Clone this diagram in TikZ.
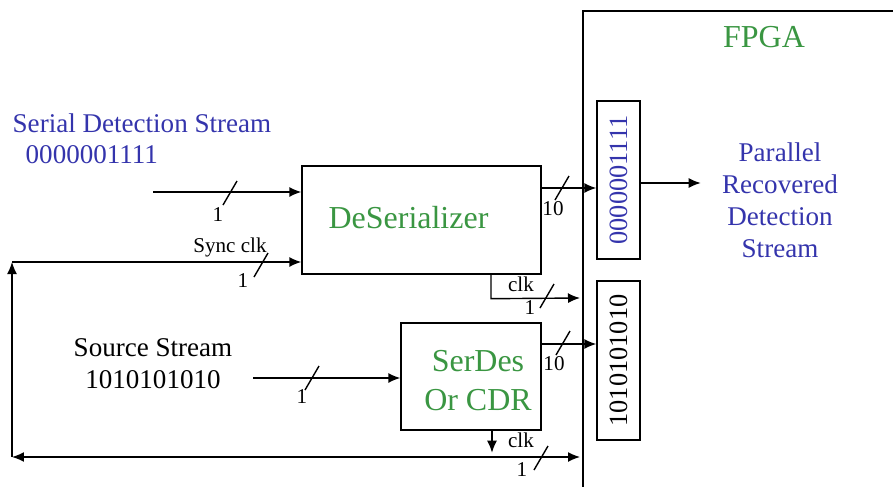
\documentclass[tikz,border=0pt]{standalone}
\usepackage{fontspec}
\setmainfont{Liberation Serif}
\usetikzlibrary{arrows.meta,positioning,calc}
\tikzset{>={Latex[length=2.4mm,width=2mm]}}
\definecolor{detblue}{RGB}{52,52,172}
\definecolor{blkgreen}{RGB}{58,150,66}
\tikzset{
  block/.style={draw, inner sep=0pt, font=\fontsize{18.2}{18.2}\selectfont, text=blkgreen},
  blocktxt/.style={inner sep=0pt, font=\fontsize{18.2}{18.2}\selectfont, text=blkgreen, align=center},
  reg/.style={draw, inner sep=0pt, minimum width=0.86cm, font=\fontsize{15}{15}\selectfont},
  buslabel/.style={inner sep=0pt, font=\fontsize{12}{12}\selectfont},
  bigtext/.style={inner sep=0pt, font=\fontsize{15.4}{18.2}\selectfont, align=center}
}
% bus width mark
\newcommand{\busmark}[1]{\draw (#1) ++(-7,12) -- ++(14,-24);}

\begin{document}
\begin{tikzpicture}[x=0.02cm, y=-0.02cm, line width=0.8pt]
    \useasboundingbox (0,0) rectangle (893,487);
    % FPGA outline
    \coordinate (fpganw) at (583,11);
    \draw (fpganw |- 0,487) -- (fpganw) -- (893,11);
    \node [blocktxt] (fpgatxt) at (764,37) {FPGA};

    % blocks
    \node [block, minimum width=4.78cm, minimum height=2.16cm] (deser) at (421.5,220) {};
    \node [blocktxt] (desertxt) at ($(deser.center)+(-13,-2)$) {DeSerializer};
    \node [block, minimum width=2.8cm, minimum height=2.14cm] (serdes) at (471,376.5) {};
    \node [blocktxt] (serdestxt) at ($(serdes.center)+(7,4)$) {SerDes\\[4pt]Or CDR};
    \node [reg, minimum height=3.16cm, text=detblue] (regdet) at (618.5,180) {\rotatebox{90}{0000001111}};
    \node [reg, minimum height=3.18cm] (regsrc) at (618.5,360.5) {\rotatebox{90}{1010101010}};

    % texts
    \node [bigtext, text=detblue, anchor=west] (sertxt) at (12,123) {Serial Detection Stream};
    \node [bigtext, text=detblue, anchor=west] (serbits) at (25,155) {0000001111};
    \node [bigtext] (srctxt) at (153,364) {Source Stream\\1010101010};
    \node [bigtext, text=detblue] (partxt) at (780,200) {Parallel\\Recovered\\Detection\\Stream};

    % inputs
    \coordinate (serin) at (153,192);
    \draw [->] (serin) -- (serin -| deser.west);
    \coordinate (srcin) at (253,378);
    \draw [->] (srcin) -- (srcin -| serdes.west);

    % clock loop
    \coordinate (ltop) at (12,262);
    \coordinate (lbot) at (12,457);
    \draw [->] (lbot) -- (ltop);
    \draw [->] (ltop) -- (ltop -| deser.west);
    \draw [<->] (lbot) -- (lbot -| 580,0);
    \draw [->] ($(serdes.south)+(21,0)$) -- ++(0,22);
    \draw [->] ($(deser.south)+(69.5,0)$) -- ++(0,24) -- (580,298);

    % parallel outputs
    \coordinate (dout) at ($(deser.east)+(0,-32)$);
    \draw [->] (dout) -- (dout -| regdet.west);
    \coordinate (sout) at ($(serdes.east)+(0,-32.5)$);
    \draw [->] (sout) -- (sout -| regsrc.west);
    \draw [->] ($(regdet.east)+(0,3)$) -- ++(60,0);

    % bus widths
    \busmark{230,193}
    \busmark{261,265}
    \busmark{562,188}
    \busmark{547,296}
    \busmark{312,378}
    \busmark{563,343}
    \busmark{541,458}
    \node [buslabel] (n1) at (218,215) {1};
    \node [buslabel] (synclbl) at (230,247) {Sync clk};
    \node [buslabel] (n2) at (243,281) {1};
    \node [buslabel] (d10) at (553,209) {10};
    \node [buslabel] (dclk) at (521,284) {clk};
    \node [buslabel] (n3) at (530,308) {1};
    \node [buslabel] (n4) at (302,397) {1};
    \node [buslabel] (s10) at (554,364) {10};
    \node [buslabel] (sclk) at (521,440) {clk};
    \node [buslabel] (n5) at (522,470) {1};
\end{tikzpicture}
\end{document}
